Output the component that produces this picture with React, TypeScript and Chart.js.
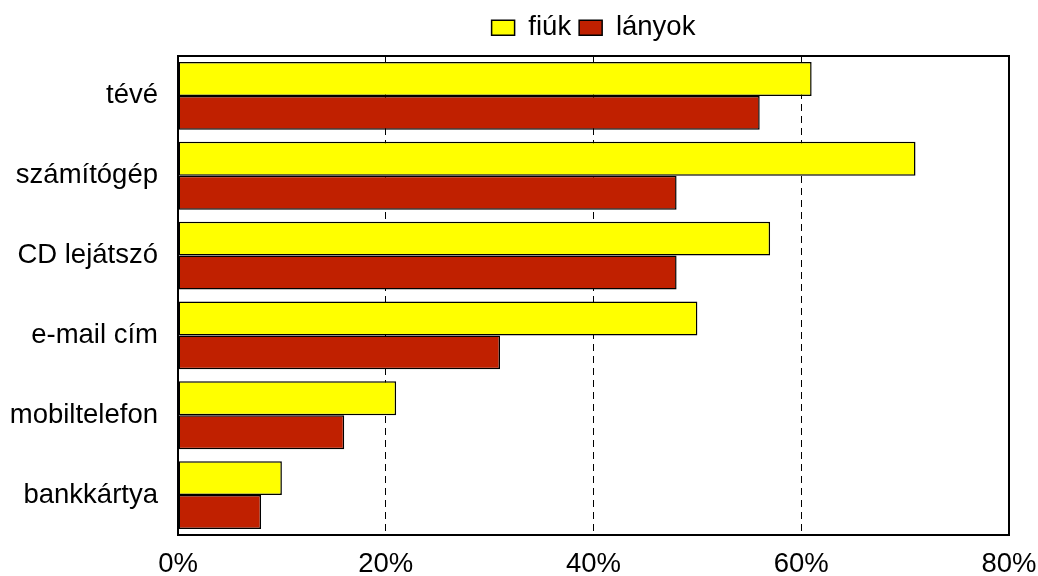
import React, { useEffect, useRef } from "react";
import { Chart, registerables } from "chart.js";

Chart.register(...registerables);

const categories = ["tévé", "számítógép", "CD lejátszó", "e-mail cím", "mobiltelefon", "bankkártya"];
const fiukValues = [61, 71, 57, 50, 21, 10];
const lanyokValues = [56, 48, 48, 31, 16, 8];
const seriesNames = ["fiúk", "lányok"];
const xTicks = [0, 20, 40, 60, 80];

const FONT = "'Liberation Sans', Arial, sans-serif";
const FS = 27.5;

const framePlugin = {
  id: "frame",
  afterDraw(chart: any) {
    const { ctx, chartArea } = chart;
    ctx.save();
    ctx.strokeStyle = "#000";
    ctx.lineWidth = 2;
    ctx.setLineDash([]);
    ctx.strokeRect(chartArea.left, chartArea.top, chartArea.right - chartArea.left, chartArea.bottom - chartArea.top);
    ctx.restore();
  },
};

const legendPlugin = {
  id: "legendAdjust",
  afterInit(chart: any) {
    const l = chart.legend;
    if (!l) return;
    const f = l.fit;
    l.fit = function () {
      f.call(this);
      this.height = 50;
    };
  },
  beforeDraw(chart: any) {
    const l = chart.legend;
    if (!l) return;
    const ca = chart.chartArea;
    l.left = ca.left;
    l.right = ca.right;
    l.width = ca.right - ca.left;
  },
};

export default function App() {
  const ref = useRef<HTMLCanvasElement>(null);
  useEffect(() => {
    document.body.style.margin = "0";
    const chart = new Chart(ref.current!, {
      type: "bar",
      data: {
        labels: categories,
        datasets: [
          {
            label: seriesNames[0],
            data: fiukValues,
            backgroundColor: "#FFFF00",
            borderColor: "#000",
            borderWidth: 1.5,
            borderSkipped: false,
            categoryPercentage: 0.85,
            barPercentage: 1.0,
          },
          {
            label: seriesNames[1],
            data: lanyokValues,
            backgroundColor: "#C02000",
            borderColor: "#000",
            borderWidth: 1.5,
            borderSkipped: false,
            categoryPercentage: 0.85,
            barPercentage: 1.0,
          },
        ],
      },
      options: {
        indexAxis: "y",
        animation: false,
        responsive: false,
        maintainAspectRatio: false,
        layout: { padding: { top: 6, right: 0, left: 0, bottom: 0 } },
        plugins: {
          tooltip: { enabled: false },
          legend: {
            position: "top",
            align: "center",
            labels: {
              boxWidth: 23,
              boxHeight: 15,
              color: "#000",
              padding: 8,
              font: { family: FONT, size: FS },
            },
          },
        },
        scales: {
          x: {
            min: 0,
            max: 80,
            afterBuildTicks(scale: any) {
              scale.ticks = xTicks.map((v) => ({ value: v }));
            },
            afterFit(scale: any) {
              scale.height = 41;
              scale.paddingRight = 29;
            },
            ticks: {
              color: "#000",
              font: { family: FONT, size: FS },
              padding: 13,
              maxRotation: 0,
              callback: (v: any) => v + "%",
            },
            grid: {
              drawTicks: false,
              color: (c: any) => (c.tick && (c.tick.value === 0 || c.tick.value === 80) ? "rgba(0,0,0,0)" : "#000"),
              lineWidth: 1,
            },
            border: { display: false, dash: [7, 5] },
          },
          y: {
            afterFit(scale: any) {
              scale.width = 178;
            },
            ticks: {
              color: "#000",
              font: { family: FONT, size: FS },
              padding: 20,
            },
            grid: { display: false, drawTicks: false },
            border: { display: false },
          },
        },
      },
      plugins: [framePlugin, legendPlugin],
    } as any);
    return () => chart.destroy();
  }, []);
  return (
    <div style={{ width: 1038, height: 576 }}>
      <canvas ref={ref} width={1038} height={576} style={{ display: "block" }} />
    </div>
  );
}
